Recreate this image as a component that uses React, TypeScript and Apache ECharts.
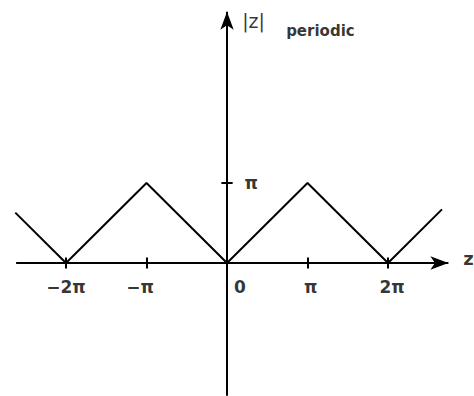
import React, { useEffect, useRef } from "react";
import * as echarts from "echarts";

// Triangle wave |z|_periodic, in units of π
const waveX = [-2.63, -2, -1, 0, 1, 2, 2.67];
const waveY = [0.63, 0, 1, 0, 1, 0, 0.67];
const xTickValues = [-2, -1, 0, 1, 2];
const xTickLabels = ["−2π", "−π", "0", "π", "2π"];
const yTickValues = [1];
const yTickLabels = ["π"];
const xAxisName = "z";
const yAxisName = "|z|";
const yAxisSub = "periodic";

const FONT = "DejaVu Sans";

export default function App() {
  const ref = useRef<HTMLDivElement>(null);
  useEffect(() => {
    if (!ref.current) return;
    const chart = echarts.init(ref.current, null, { renderer: "svg" });
    const black = "#000";
    const tickHalf = 0.07;
    const xLabelDx = [0.0, -0.08, 0.16, 0.04, 0.05];
    const labelStyle = { color: black, fontFamily: FONT, fontSize: 17, fontWeight: "bold" as const };

    const markLines: any[] = [
      [
        { coord: [-2.62, 0], symbol: "none" },
        { coord: [2.75, 0], symbol: "arrow", symbolSize: [10, 18] },
      ],
      [
        { coord: [0, -1.66], symbol: "none" },
        { coord: [0, 3.14], symbol: "arrow", symbolSize: [10, 18] },
      ],
      ...xTickValues
        .filter((v) => v !== 0)
        .map((v) => [
          { coord: [v, -tickHalf], symbol: "none" },
          { coord: [v, tickHalf], symbol: "none" },
        ]),
      ...yTickValues.map((v) => [
        { coord: [-tickHalf, v], symbol: "none" },
        { coord: [tickHalf, v], symbol: "none" },
      ]),
    ];

    const textPoints: any[] = [
      ...xTickValues.map((v, i) => ({
        value: [v + xLabelDx[i], -0.3],
        label: { formatter: xTickLabels[i] },
      })),
      ...yTickValues.map((v, i) => ({
        value: [0.3, v],
        label: { formatter: yTickLabels[i] },
      })),
      { value: [3.0, 0.06], label: { formatter: xAxisName, fontSize: 18 } },
      { value: [0.33, 3.03], label: { formatter: yAxisName, fontSize: 19, fontWeight: "normal" } },
      { value: [1.16, 2.9], label: { formatter: yAxisSub, fontSize: 15 } },
    ];

    chart.setOption({
      animation: false,
      grid: { left: 0, right: 0, top: 0, bottom: 0, containLabel: false },
      xAxis: { type: "value", min: -2.82, max: 3.068, show: false },
      yAxis: { type: "value", min: -1.6625, max: 3.2875, show: false },
      series: [
        {
          type: "line",
          data: waveX.map((x, i) => [x, waveY[i]]),
          symbol: "none",
          lineStyle: { color: black, width: 2 },
          silent: true,
          markLine: {
            silent: true,
            symbol: "none",
            label: { show: false },
            lineStyle: { color: black, width: 2, type: "solid" },
            emphasis: { disabled: true },
            data: markLines,
          },
        },
        {
          type: "scatter",
          symbolSize: 0,
          silent: true,
          data: textPoints,
          label: { show: true, position: "inside", ...labelStyle },
        },
      ],
    });
    return () => chart.dispose();
  }, []);
  return (
    <div
      ref={ref}
      style={{ position: "absolute", left: 0, top: 0, width: 474, height: 396, background: "#fff" }}
    />
  );
}
